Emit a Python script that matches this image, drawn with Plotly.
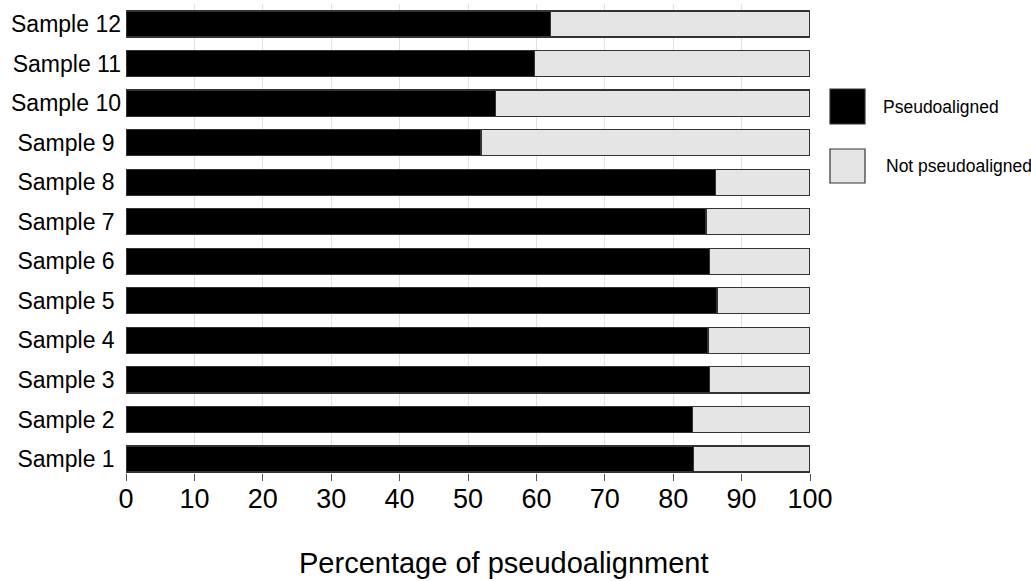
import plotly.graph_objects as go

samples = ["Sample 1", "Sample 2", "Sample 3", "Sample 4", "Sample 5", "Sample 6",
           "Sample 7", "Sample 8", "Sample 9", "Sample 10", "Sample 11", "Sample 12"]
sample_tick_labels = ["Sample 1\u00a0", "Sample 2\u00a0", "Sample 3\u00a0", "Sample 4\u00a0",
                      "Sample 5\u00a0", "Sample 6\u00a0", "Sample 7\u00a0", "Sample 8\u00a0",
                      "Sample 9\u00a0", "Sample 10", "Sample 11", "Sample 12"]
pseudoaligned = [83.0, 82.8, 85.3, 85.1, 86.4, 85.3, 84.8, 86.2, 51.9, 54.0, 59.7, 62.1]
not_pseudoaligned = [17.0, 17.2, 14.7, 14.9, 13.6, 14.7, 15.2, 13.8, 48.1, 46.0, 40.3, 37.9]
x_ticks = [0, 10, 20, 30, 40, 50, 60, 70, 80, 90, 100]
legend_labels = ["Pseudoaligned", "Not pseudoaligned"]
colors = ["#000000", "#e6e5e5"]

FONT = "Liberation Sans, Arial, sans-serif"

fig = go.Figure()
fig.add_trace(go.Bar(y=samples, x=pseudoaligned, orientation="h", name=legend_labels[0],
                     marker=dict(color=colors[0], line=dict(color="#333333", width=1.2)),
                     width=0.66, showlegend=False))
fig.add_trace(go.Bar(y=samples, x=not_pseudoaligned, orientation="h", name=legend_labels[1],
                     marker=dict(color=colors[1], line=dict(color="#333333", width=1.2)),
                     width=0.66, showlegend=False))

# plot area: x 126..810, y 4..473 px
L, R, T, B = 126, 810, 4, 473
W, H = 1031, 581
pw, ph = R - L, B - T

def px(x):
    return (x - L) / pw

def py(y):
    return (B - y) / ph

shapes = []
annotations = []
# legend boxes
for (y0, y1), col, lab, tx, ty in [((89, 124), colors[0], legend_labels[0], 883, 107),
                                     ((149, 183), colors[1], legend_labels[1], 886, 166)]:
    shapes.append(dict(type="rect", xref="paper", yref="paper",
                       x0=px(830), x1=px(865), y0=py(y1), y1=py(y0),
                       fillcolor=col, line=dict(color="#333333", width=1.2)))
    annotations.append(dict(text=lab, xref="paper", yref="paper", x=px(tx), y=py(ty),
                            xanchor="left", yanchor="middle", showarrow=False, xshift=-2,
                            font=dict(family=FONT, size=17.5, color="#000000")))

annotations.append(dict(text="Percentage of pseudoalignment", xref="paper", yref="paper",
                        x=px(504), y=py(563), xanchor="center", yanchor="middle",
                        showarrow=False, font=dict(family=FONT, size=29, color="#000000")))

fig.update_layout(
    width=W, height=H, autosize=False,
    barmode="stack",
    plot_bgcolor="white", paper_bgcolor="white",
    margin=dict(l=L, r=W - R, t=T, b=H - B, pad=0),
    font=dict(family=FONT, color="#000000"),
    shapes=shapes, annotations=annotations,
    xaxis=dict(range=[0, 100], tickvals=x_ticks, ticktext=[str(v) for v in x_ticks],
               showgrid=True, gridcolor="#e0e0e0", gridwidth=1,
               zeroline=False, showline=False,
               ticks="outside", ticklen=7, tickcolor="#555555", tickwidth=1,
               ticklabelstandoff=-5,
               tickfont=dict(family=FONT, size=27, color="#000000")),
    yaxis=dict(categoryorder="array", categoryarray=samples, range=[-0.354, 11.506],
               tickvals=samples, ticktext=sample_tick_labels,
               showgrid=False, zeroline=False, showline=False, ticks="",
               ticklabelstandoff=4,
               tickfont=dict(family=FONT, size=23, color="#000000")),
)

fig.write_html("out.html", config={"displayModeBar": False},
               post_script="document.body.style.margin='0';document.body.style.padding='0';"
                           "document.body.style.overflow='hidden';"
                           "document.documentElement.style.overflow='hidden';")
